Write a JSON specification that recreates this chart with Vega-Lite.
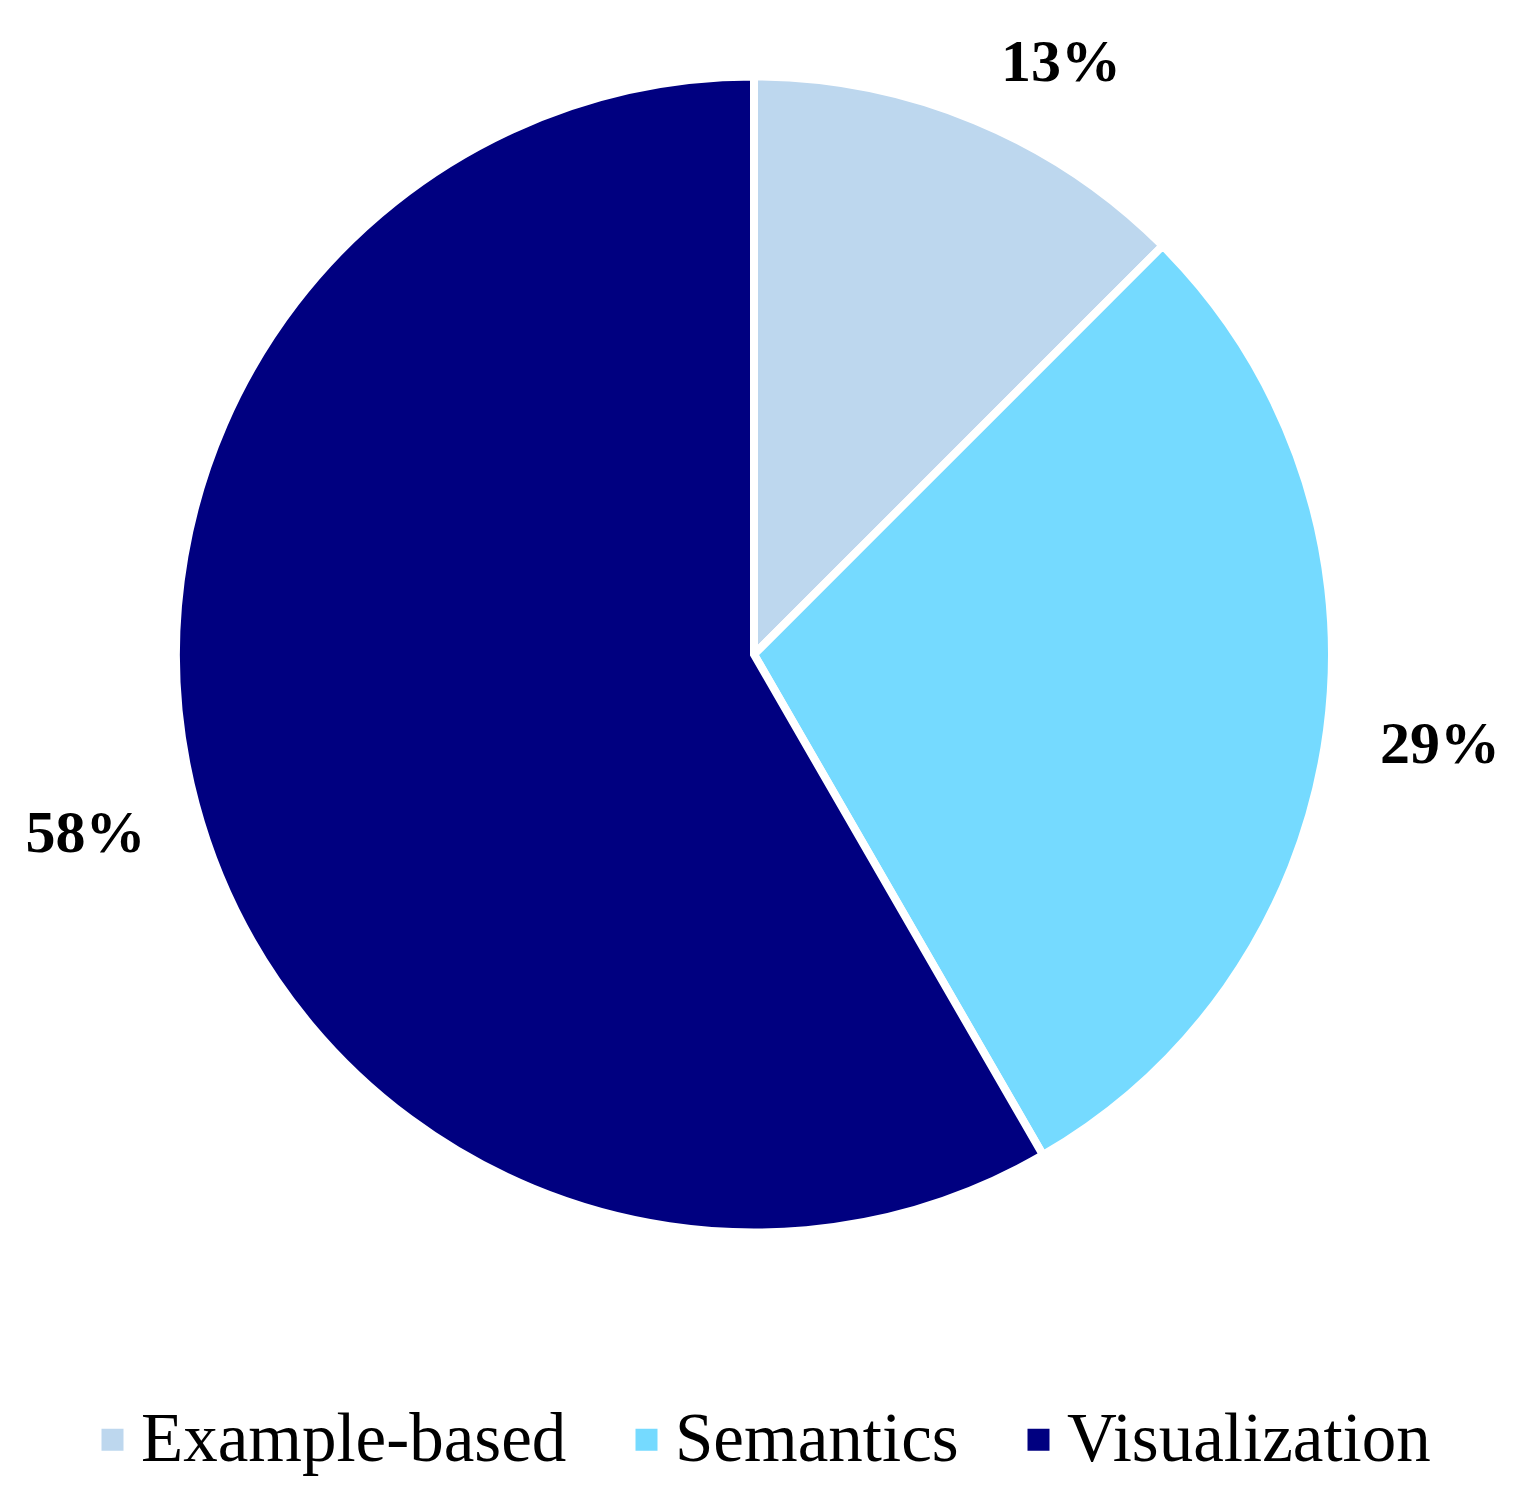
{
  "$schema": "https://vega.github.io/schema/vega-lite/v6.json",
  "width": 1532,
  "height": 1495,
  "autosize": {"type": "fit", "contains": "padding"},
  "padding": {"left": 0, "right": 24, "top": 0, "bottom": 20},
  "background": "white",
  "data": {
    "values": [
      {"category": "Example-based", "count": 3, "label": "13%"},
      {"category": "Semantics", "count": 7, "label": "29%"},
      {"category": "Visualization", "count": 14, "label": "58%"}
    ]
  },
  "encoding": {
    "theta": {"field": "count", "type": "quantitative", "stack": true},
    "color": {
      "field": "category",
      "type": "nominal",
      "scale": {
        "domain": ["Example-based", "Semantics", "Visualization"],
        "range": ["#BDD7EE", "#75DAFF", "#000080"]
      },
      "legend": {
        "orient": "bottom",
        "direction": "horizontal",
        "title": null,
        "symbolType": "square",
        "symbolSize": 484,
        "symbolStrokeWidth": 0,
        "labelFont": "Liberation Serif",
        "labelFontSize": 69,
        "labelColor": "black",
        "labelLimit": 0,
        "labelOffset": -6,
        "columnPadding": 45,
        "offset": 96
      }
    }
  },
  "layer": [
    {
      "mark": {"type": "arc", "outerRadius": 578, "stroke": "white", "strokeWidth": 8}
    },
    {
      "mark": {
        "type": "text",
        "radius": 692,
        "font": "Liberation Serif",
        "fontWeight": "bold",
        "fontSize": 60,
        "fill": "black"
      },
      "encoding": {
        "text": {
          "condition": {"test": "datum.category !== 'Example-based'", "field": "label"},
          "value": ""
        },
        "color": {"value": "black"}
      }
    },
    {
      "mark": {
        "type": "text",
        "radius": 640,
        "dx": 62,
        "font": "Liberation Serif",
        "fontWeight": "bold",
        "fontSize": 60,
        "fill": "black"
      },
      "encoding": {
        "text": {
          "condition": {"test": "datum.category === 'Example-based'", "field": "label"},
          "value": ""
        },
        "color": {"value": "black"}
      }
    }
  ],
  "config": {
    "view": {"stroke": null},
    "legend": {"layout": {"bottom": {"anchor": "middle"}}}
  }
}
